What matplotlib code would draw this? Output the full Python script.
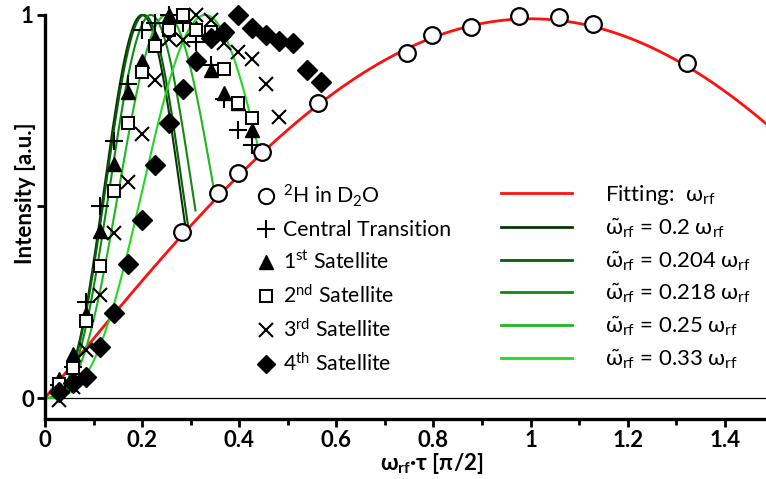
import numpy as np
import matplotlib
matplotlib.use("Agg")
import matplotlib.pyplot as plt
from matplotlib.lines import Line2D

plt.rcParams['font.family'] = ['Lato', 'DejaVu Sans']
plt.rcParams['mathtext.fontset'] = 'custom'
plt.rcParams['mathtext.rm'] = 'Lato'
plt.rcParams['mathtext.it'] = 'Lato:italic'
plt.rcParams['mathtext.bf'] = 'Lato:bold'
plt.rcParams['mathtext.default'] = 'regular'

# pulse length grid of the quadrupolar satellite measurements
tau = [0.028, 0.057, 0.085, 0.114, 0.142, 0.170, 0.199, 0.227, 0.256, 0.284,
       0.312, 0.341, 0.369, 0.398, 0.426, 0.455, 0.483, 0.511, 0.540, 0.568]

central = [0.035, 0.08, 0.25, 0.50, 0.67, 0.82, 0.96, 0.98, 1.0, 0.98,
           0.93, 0.87, 0.78, 0.70, 0.66]
sat1 = [0.05, 0.115, 0.22, 0.437, 0.61, 0.80, 0.88, 0.94, 1.0, 1.0,
        0.966, 0.856, 0.795, 0.77, 0.70]
sat2 = [0.037, 0.078, 0.20, 0.345, 0.54, 0.717, 0.85, 0.92, 0.96, 1.0,
        0.96, 0.956, 0.858, 0.77, 0.73]
sat3 = [-0.005, 0.03, 0.125, 0.27, 0.43, 0.563, 0.69, 0.83, 0.937, 0.935,
        1.0, 0.987, 0.926, 0.904, 0.884, 0.82, 0.734]
sat4 = [0.015, 0.038, 0.056, 0.132, 0.223, 0.35, 0.465, 0.608, 0.719, 0.806,
        0.88, 0.939, 0.956, 1.0, 0.965, 0.948, 0.933, 0.928, 0.855, 0.826]

# deuterium reference (D2O)
d2o_x = [0.282, 0.356, 0.397, 0.446, 0.563, 0.746, 0.798, 0.878, 0.976,
         1.059, 1.128, 1.322]
d2o_y = [0.433, 0.535, 0.587, 0.642, 0.77, 0.90, 0.948, 0.969, 0.997,
         0.995, 0.976, 0.875]

# effective nutation frequencies (in units of w_rf) and the range each fit is drawn on
w_eff = [0.2, 0.204, 0.218, 0.25, 0.33]
w_end = [0.29, 0.295, 0.31, 0.35, 0.44]
w_colors = ['#063806', '#0b5c0b', '#118a11', '#1fb81f', '#22d822']
w_labels = ['0.2', '0.204', '0.218', '0.25', '0.33']
fit_amp = 0.99

fig = plt.figure(figsize=(7.66, 4.79), dpi=100)
ax = fig.add_axes([0.0587, 0.125, 0.9413, 0.875])

ax.axhline(0, color='black', lw=0.9, zorder=1)

xr = np.linspace(0, 1.5, 400)
ax.plot(xr, fit_amp * np.sin(np.pi / 2 * xr), color='#ff1010', lw=2, zorder=2)
for w, xe, c in zip(w_eff, w_end, w_colors):
    xs = np.linspace(0, xe, 300)
    ax.plot(xs, np.sin(np.pi / 2 * xs / w) ** 3, color=c, lw=1.5, zorder=2)

mk = dict(color='black', linestyle='none', zorder=3, clip_on=False)
ax.plot(d2o_x, d2o_y, marker='o', ms=12, mfc='white', mew=1.6, **mk)
ax.plot(tau[:len(central)], central, marker='+', ms=13, mew=1.5, **mk)
ax.plot(tau[:len(sat1)], sat1, marker='^', ms=10, **mk)
ax.plot(tau[:len(sat2)], sat2, marker='s', ms=8, mfc='white', mew=1.4, **mk)
ax.plot(tau[:len(sat3)], sat3, marker='x', ms=10, mew=1.5, **mk)
ax.plot(tau[:len(sat4)], sat4, marker='D', ms=10, **mk)

ax.set_xlim(0, 1.485)
ax.set_ylim(-0.055, 1.039)
for s in ['top', 'right']:
    ax.spines[s].set_visible(False)
for s in ['left', 'bottom']:
    ax.spines[s].set_linewidth(2.4)
ax.spines['left'].set_bounds(-0.055, 1.0)

ax.set_xticks(np.arange(0, 1.5, 0.2))
ax.set_xticklabels(['0', '0.2', '0.4', '0.6', '0.8', '1', '1.2', '1.4'])
ax.set_xticks(np.arange(0.1, 1.5, 0.2), minor=True)
ax.set_yticks([0, 0.5, 1])
ax.set_yticklabels(['0', '', '1'])
ax.tick_params(axis='both', which='major', direction='out', length=6, width=2,
               labelsize=16, pad=2)
ax.tick_params(axis='x', which='minor', direction='out', length=4, width=2)
for lab in ax.get_xticklabels() + ax.get_yticklabels():
    lab.set_fontweight('bold')

ax.set_xlabel(r'$\mathbf{\omega_{rf}}$·τ [π/2]', fontsize=16, fontweight='bold')
ax.xaxis.set_label_coords(0.537, -0.075)
ax.set_ylabel('Intensity [a.u.]', fontsize=16, fontweight='bold')
ax.yaxis.set_label_coords(-0.013, 0.54)

# data legend (markers)
mh = [Line2D([], [], marker='o', ms=11, mfc='white', mew=1.5, color='black', ls='none'),
      Line2D([], [], marker='+', ms=13, mew=1.5, color='black', ls='none'),
      Line2D([], [], marker='^', ms=10, color='black', ls='none'),
      Line2D([], [], marker='s', ms=8, mfc='white', mew=1.4, color='black', ls='none'),
      Line2D([], [], marker='x', ms=10, mew=1.5, color='black', ls='none'),
      Line2D([], [], marker='D', ms=9, color='black', ls='none')]
ml = [r'$^2$H in D$_2$O', 'Central Transition', r'1$^{st}$ Satellite',
      r'2$^{nd}$ Satellite', r'3$^{rd}$ Satellite', r'4$^{th}$ Satellite']
leg1 = ax.legend(mh, ml, loc='upper left', bbox_to_anchor=(0.283, 0.585),
                 frameon=False, fontsize=15.3, handlelength=0.8, handletextpad=0.4,
                 labelspacing=0.52, borderaxespad=0)
ax.add_artist(leg1)

# fit legend (lines)
lh = [Line2D([], [], color='#ff1010', lw=2)] + \
     [Line2D([], [], color=c, lw=2) for c in w_colors]
ll = [r'Fitting:  $\omega_{rf}$'] + \
     [r'$\tilde{\omega}_{rf}$ = %s $\omega_{rf}$' % s for s in w_labels]
ax.legend(lh, ll, loc='upper left', bbox_to_anchor=(0.62, 0.585),
          frameon=False, fontsize=16, handlelength=3.2, handletextpad=1.5,
          labelspacing=0.42, borderaxespad=0)

fig.savefig('out.png', dpi=100)
